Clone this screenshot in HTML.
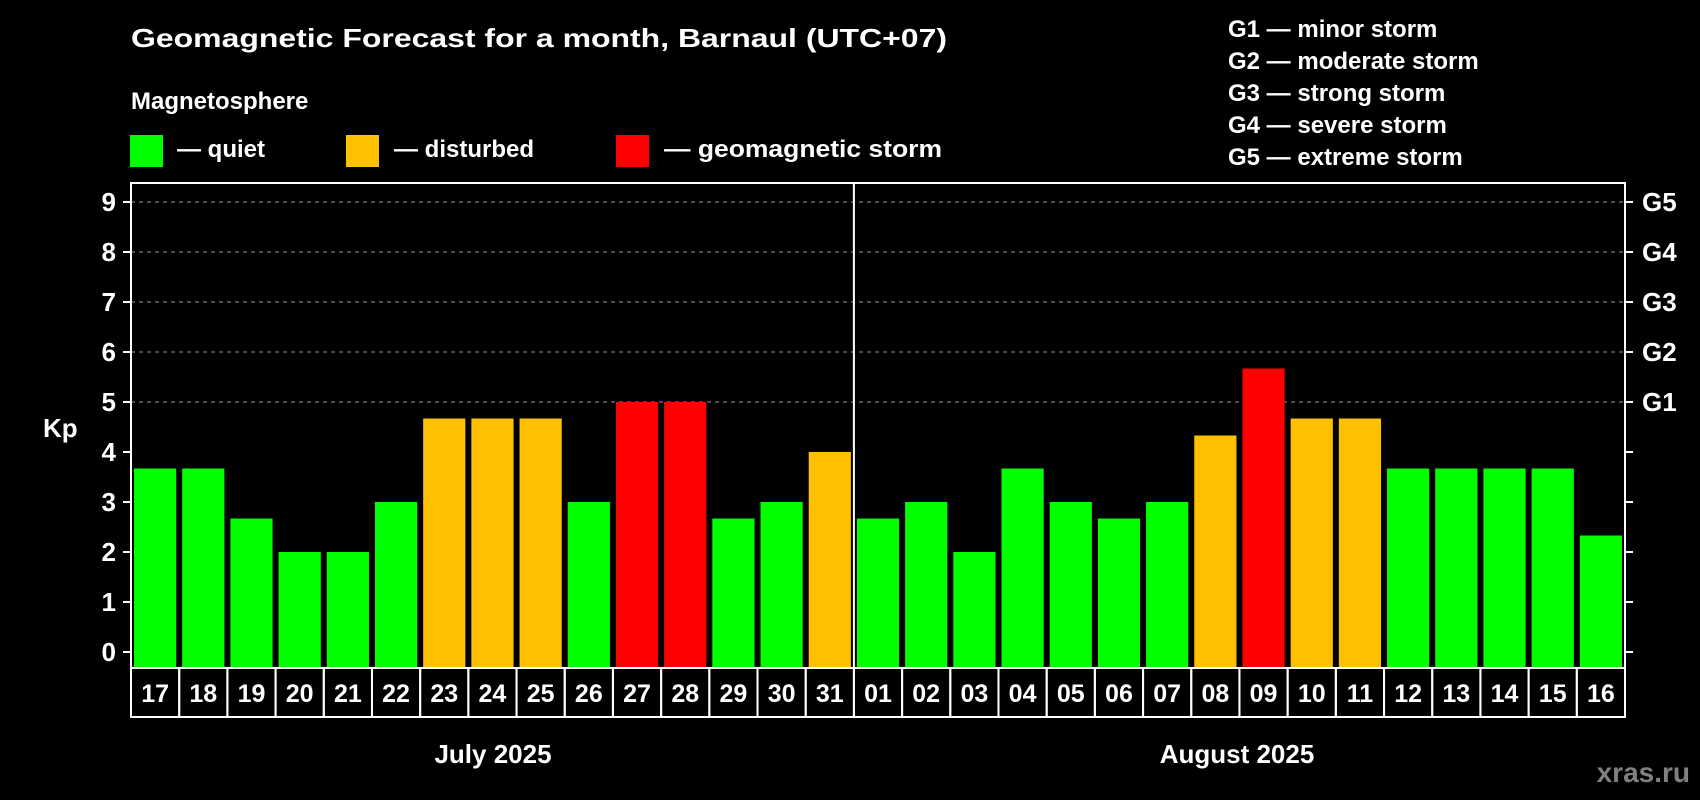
<!DOCTYPE html>
<html><head><meta charset="utf-8"><style>
html,body{margin:0;padding:0;background:#000;width:1700px;height:800px;overflow:hidden}
svg{display:block;font-family:"Liberation Sans",Arial,sans-serif;font-weight:bold}
</style></head><body>
<svg id="chart" width="1700" height="800">
<text x="131" y="47" font-size="26" fill="#fff" textLength="816" lengthAdjust="spacingAndGlyphs">Geomagnetic Forecast for a month, Barnaul (UTC+07)</text>
<text x="131" y="109" font-size="24" fill="#fff">Magnetosphere</text>
<g><rect x="130" y="135" width="33" height="32" fill="#00ff00"/><text x="177" y="157" font-size="24" fill="#fff">— quiet</text></g>
<g><rect x="346" y="135" width="33" height="32" fill="#ffc000"/><text x="394" y="157" font-size="24" fill="#fff">— disturbed</text></g>
<g><rect x="616" y="135" width="33" height="32" fill="#ff0000"/><text x="664" y="157" font-size="24" fill="#fff" textLength="278" lengthAdjust="spacingAndGlyphs">— geomagnetic storm</text></g>
<g font-size="24" fill="#fff">
<text x="1228" y="37">G1 — minor storm</text>
<text x="1228" y="69">G2 — moderate storm</text>
<text x="1228" y="101">G3 — strong storm</text>
<text x="1228" y="133">G4 — severe storm</text>
<text x="1228" y="165">G5 — extreme storm</text>
</g>
<text x="43" y="437" font-size="26" fill="#fff">Kp</text>
<g id="grid"></g><g id="bars"></g><g id="axes"></g><g id="xlabels"></g>
<text x="493" y="763" font-size="26" fill="#fff" text-anchor="middle">July 2025</text>
<text x="1237" y="763" font-size="26" fill="#fff" text-anchor="middle">August 2025</text>
<text x="1690" y="782" font-size="28" fill="#808080" text-anchor="end">xras.ru</text>
</svg>
<script>
const days=["17","18","19","20","21","22","23","24","25","26","27","28","29","30","31","01","02","03","04","05","06","07","08","09","10","11","12","13","14","15","16"];
const kpValues=[3.67,3.67,2.67,2,2,3,4.67,4.67,4.67,3,5,5,2.67,3,4,2.67,3,2,3.67,3,2.67,3,4.33,5.67,4.67,4.67,3.67,3.67,3.67,3.67,2.33];
const yTicks=[0,1,2,3,4,5,6,7,8,9];
const gLevels=["G1","G2","G3","G4","G5"];
const gKp=[5,6,7,8,9];
const monthSplit=15;
const NS="http://www.w3.org/2000/svg";
const L=131,R=1625,T=183,B=668;
const bw=(R-L)/days.length;
const y=v=>652-v*50;
const x=i=>L+i*bw;
function mk(tag,attrs,parent){const e=document.createElementNS(NS,tag);for(const k in attrs)e.setAttribute(k,attrs[k]);parent.appendChild(e);return e;}
const grid=document.getElementById('grid'),bars=document.getElementById('bars'),axes=document.getElementById('axes'),xl=document.getElementById('xlabels');
yTicks.forEach(v=>{
  if(v>=5){const g=mk('line',{x1:L,x2:R,y1:y(v),y2:y(v),stroke:'#999','stroke-dasharray':'4 4','stroke-width':1},grid);
  
  }
  const t=mk('line',{x1:L-8,x2:L,y1:y(v),y2:y(v),stroke:'#fff','stroke-width':2},axes);
  
  
  const t2=mk('line',{x1:R,x2:R+8,y1:y(v),y2:y(v),stroke:'#fff','stroke-width':2},axes);
  
  
  const lb=mk('text',{x:116,y:y(v)+9,'font-size':26,fill:'#fff','text-anchor':'end'},axes);
  lb.textContent=v;
  
  
});
gLevels.forEach((g,i)=>{
  const t=mk('text',{x:1642,y:y(gKp[i])+9,'font-size':26,fill:'#fff'},axes);
  t.textContent=g;
  
  
});
kpValues.forEach((v,i)=>{
  const c=v>=5?'#ff0000':(v>=4?'#ffc000':'#00ff00');
  const b=mk('rect',{x:x(i)+3,y:y(v),width:bw-6,height:B-y(v),fill:c},bars);
  
  
  const bx=mk('rect',{x:x(i),y:B,width:bw,height:49,fill:'none',stroke:'#fff','stroke-width':2},xl);
  
  
  const t=mk('text',{x:x(i)+bw/2,y:B+34,'font-size':25,fill:'#fff','text-anchor':'middle'},xl);
  t.textContent=days[i];
  
  
});
const frame=mk('rect',{x:L,y:T,width:R-L,height:B-T,fill:'none',stroke:'#fff','stroke-width':2},axes);


const d=mk('line',{x1:x(monthSplit),x2:x(monthSplit),y1:T,y2:B,stroke:'#fff','stroke-width':2},axes);


</script>
</body></html>
